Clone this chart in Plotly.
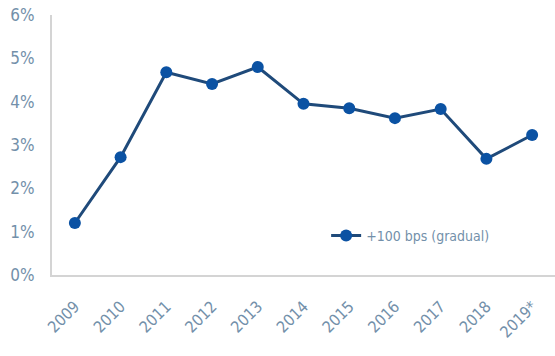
import plotly.graph_objects as go

years = ["2009", "2010", "2011", "2012", "2013", "2014", "2015", "2016", "2017", "2018", "2019*"]
values = [1.20, 2.72, 4.68, 4.41, 4.80, 3.95, 3.85, 3.62, 3.83, 2.68, 3.23]
y_ticks = [0, 1, 2, 3, 4, 5, 6]
y_tick_labels = ["0%", "1%", "2%", "3%", "4%", "5%", "6%"]
series_name = "+100 bps (gradual)"

FONT = "Liberation Sans Narrow, DejaVu Sans Condensed, Roboto, sans-serif"
TICK_COLOR = "#7390aa"

fig = go.Figure()
fig.add_trace(go.Scatter(
    x=years, y=values, mode="lines+markers", name=series_name,
    line=dict(color="#1f4a7a", width=3),
    marker=dict(color="#0b52a3", size=12),
))

fig.update_layout(
    width=555, height=356,
    margin=dict(l=52, r=0, t=15, b=81),
    paper_bgcolor="white", plot_bgcolor="white",
    showlegend=True,
    legend=dict(x=0.545, y=0.15, xanchor="left", yanchor="middle",
                bgcolor="rgba(0,0,0,0)", itemwidth=30,
                font=dict(family=FONT, size=14, color=TICK_COLOR)),
    xaxis=dict(type="category", range=[-0.5, 10.5], showgrid=False,
               showline=True, linecolor="#d4d4d4", linewidth=2,
               tickangle=-45, ticks="", zeroline=False, ticklabelstandoff=14,
               tickfont=dict(family=FONT, size=16, color=TICK_COLOR)),
    yaxis=dict(range=[0, 6], tickvals=y_ticks, ticktext=y_tick_labels,
               showgrid=False, showline=True, linecolor="#d4d4d4", linewidth=2,
               ticks="", zeroline=False, ticklabelstandoff=12,
               tickfont=dict(family=FONT, size=17, color=TICK_COLOR)),
)

fig.write_html("out.html")
